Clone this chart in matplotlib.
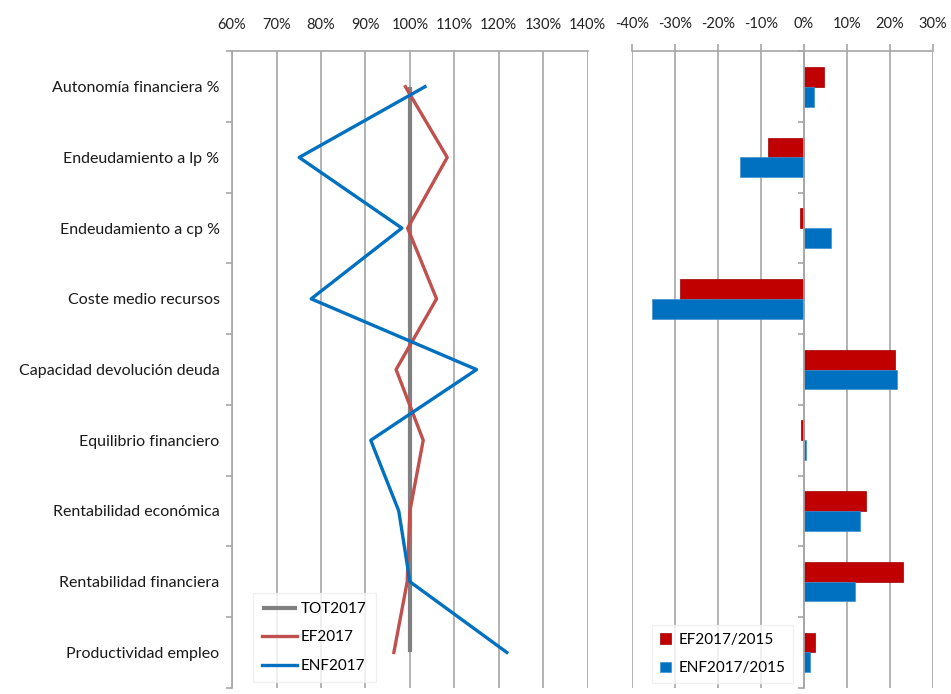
import matplotlib.pyplot as plt
import matplotlib.ticker as mticker
import numpy as np

plt.rcParams['font.family'] = ['Lato', 'DejaVu Sans']

# Indicadores (de arriba a abajo)
indicadores = ["Autonomía financiera %", "Endeudamiento a lp %", "Endeudamiento a cp %",
               "Coste medio recursos", "Capacidad devolución deuda", "Equilibrio financiero",
               "Rentabilidad económica", "Rentabilidad financiera", "Productividad empleo"]

# Índices 2017 respecto al total (%)
tot2017 = [100, 100, 100, 100, 100, 100, 100, 100, 100]
ef2017 = [99.0, 108.4, 99.5, 106.0, 96.9, 103.0, 100.0, 99.4, 96.4]
enf2017 = [103.4, 75.1, 98.2, 77.8, 115.0, 91.2, 97.5, 100.0, 121.8]

# Variación 2017/2015 (%)
ef_var = [4.6, -8.4, -0.9, -28.8, 21.2, -0.7, 14.4, 23.0, 2.6]
enf_var = [2.3, -14.9, 6.3, -35.3, 21.6, 0.4, 13.0, 11.9, 1.4]

gris = '#808080'
rojo_linea = '#C0504D'
azul = '#0070C0'
rojo_barra = '#C00000'
rejilla = '#A6A6A6'

fig = plt.figure(figsize=(9.51, 6.94), dpi=100)
ax1 = fig.add_axes([0.244, 0.009, 0.374, 0.917])
ax2 = fig.add_axes([0.6646, 0.009, 0.3165, 0.917])

y = np.arange(len(indicadores))

# Panel izquierdo: líneas
ax1.plot(tot2017, y, color=gris, lw=3, label='TOT2017', solid_capstyle='butt')
ax1.plot(ef2017, y, color=rojo_linea, lw=2.4, label='EF2017')
ax1.plot(enf2017, y, color=azul, lw=2.4, label='ENF2017')

ax1.set_xlim(60, 140)
ax1.set_ylim(len(indicadores) - 0.5, -0.5)
ax1.set_xticks(np.arange(60, 141, 10))
ax1.xaxis.set_major_formatter(mticker.FuncFormatter(lambda v, p: f'{v:.0f}%'))
ax1.xaxis.tick_top()
ax1.tick_params(axis='x', length=0, pad=14, labelsize=10.5, colors='#222222')
ax1.set_yticks(y)
ax1.set_yticklabels(indicadores, fontsize=11.5, color='#1a1a1a')
ax1.set_yticks(np.arange(-0.5, len(indicadores), 1), minor=True)
ax1.tick_params(axis='y', which='major', length=0, pad=9)
ax1.tick_params(axis='y', which='minor', length=4, color=rejilla, width=1.2)
ax1.grid(axis='x', color=rejilla, lw=1.2)
ax1.set_axisbelow(True)
for lado in ['right', 'bottom']:
    ax1.spines[lado].set_visible(False)
for lado in ['top', 'left']:
    ax1.spines[lado].set_color(rejilla)
    ax1.spines[lado].set_linewidth(1.2)

ax1.legend(loc='upper left', bbox_to_anchor=(0.2576, 0.157), bbox_transform=fig.transFigure,
           fontsize=11, handlelength=2.3, handletextpad=0.25, labelspacing=0.95,
           frameon=True, fancybox=False, edgecolor='#EEEEEE', borderpad=0.6)

# Panel derecho: barras horizontales
alto = 0.28
ax2.barh(y - alto / 2, ef_var, height=alto, color=rojo_barra, edgecolor='#A00000', lw=0.5,
         label='EF2017/2015')
ax2.barh(y + alto / 2, enf_var, height=alto, color=azul, edgecolor='#3D8FD1', lw=0.5,
         label='ENF2017/2015')

ax2.set_xlim(-40, 30)
ax2.set_ylim(len(indicadores) - 0.5, -0.5)
ax2.set_xticks(np.arange(-40, 31, 10))
ax2.xaxis.set_major_formatter(mticker.FuncFormatter(lambda v, p: f'{v:.0f}%'))
ax2.xaxis.tick_top()
ax2.tick_params(axis='x', length=5, width=1.2, color=rejilla, pad=10, labelsize=10.5,
                colors='#222222')
ax2.tick_params(axis='x', color=rejilla)
ax2.set_yticks([])
ax2.set_yticks(np.arange(-0.5, len(indicadores), 1), minor=True)
ax2.tick_params(axis='y', which='minor', length=4, color=rejilla, width=1.2)
ax2.spines['left'].set_position(('data', 0))
ax2.spines['left'].set_color(rejilla)
ax2.spines['left'].set_linewidth(1.2)
ax2.spines['top'].set_color(rejilla)
ax2.spines['top'].set_linewidth(1.2)
ax2.spines['right'].set_visible(False)
ax2.spines['bottom'].set_visible(False)
ax2.grid(axis='x', color=rejilla, lw=1.2)
ax2.set_axisbelow(True)

ax2.legend(loc='upper left', bbox_to_anchor=(0.678, 0.110), bbox_transform=fig.transFigure,
           fontsize=11, handlelength=0.7, handleheight=0.7, handletextpad=0.5,
           labelspacing=0.95, frameon=True, fancybox=False, edgecolor='#EEEEEE',
           borderpad=0.5)

fig.savefig('out.png', dpi=100)
